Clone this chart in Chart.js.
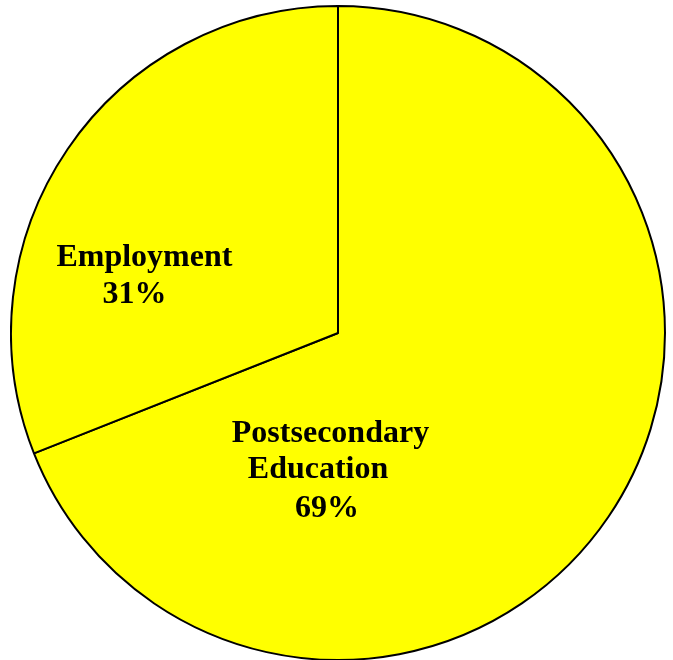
<!DOCTYPE html>
<html>
<head>
<meta charset="utf-8">
<script src="https://cdn.jsdelivr.net/npm/chart.js@4/dist/chart.umd.min.js"></script>
<style>
  html, body { margin: 0; padding: 0; background: #fff; overflow: hidden; }
  #wrap { position: absolute; left: 10px; top: 5px; width: 656px; height: 656px; }
</style>
</head>
<body>
<div id="wrap"><canvas id="myChart"></canvas></div>
<script>
// categories and shares (percent)
var categories = ["Postsecondary Education", "Employment"];
var shares = [69, 31];

// label text lines per slice
var labelLines = [
    ["Postsecondary", "Education", "69%"],
    ["Employment", "31%"]
];

var ctx = document.getElementById("myChart").getContext('2d');

// draws the slice labels, placed relative to the pie's centre and radius
var sliceLabels = {
    id: 'sliceLabels',
    afterDatasetsDraw: function (chart) {
        var arcs = chart.getDatasetMeta(0).data;
        var c = chart.ctx;
        // [dx, dy] of each line's baseline, as a fraction of the radius
        var spots = [
            [[-0.023, 0.333], [-0.061, 0.443], [-0.034, 0.563]],
            [[-0.592, -0.205], [-0.622, -0.092]]
        ];
        c.save();
        c.fillStyle = '#000';
        c.font = 'bold 32px "Liberation Serif", "Times New Roman", serif';
        c.textAlign = 'center';
        c.textBaseline = 'alphabetic';
        arcs.forEach(function (arc, i) {
            var r = arc.outerRadius;
            labelLines[i].forEach(function (line, j) {
                c.fillText(line, arc.x + spots[i][j][0] * r, arc.y + spots[i][j][1] * r);
            });
        });
        c.restore();
    }
};

var myChart = new Chart(ctx, {
    type: 'pie',
    data: {
        labels: categories,
        datasets: [{
            data: shares,
            backgroundColor: ['#ffff00', '#ffff00'],
            borderColor: '#000000',
            borderWidth: 2,
            borderAlign: 'center'
        }]
    },
    options: {
        responsive: true,
        maintainAspectRatio: false,
        animation: false,
        layout: { padding: 0 },
        plugins: {
            legend: { display: false },
            tooltip: { enabled: false }
        }
    },
    plugins: [sliceLabels]
});
</script>
</body>
</html>
